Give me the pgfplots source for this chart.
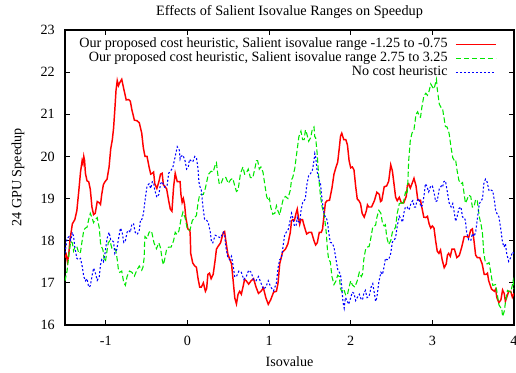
\documentclass[border=0pt]{standalone}
\usepackage{pgfplots}
\pgfplotsset{compat=1.18}
\usepackage{fontspec}
\setmainfont{Liberation Serif}
\definecolor{gred}{RGB}{255,0,0}
\definecolor{ggreen}{RGB}{0,230,0}
\definecolor{gblue}{RGB}{0,0,255}
\pgfplotsset{longleg/.style={legend image code/.code={\draw[##1] (0pt,0pt) -- (30pt,0pt);}}}
\begin{document}
\begin{tikzpicture}
\useasboundingbox (-48.75pt,-35.25pt) rectangle (338.25pt,243.75pt);
\begin{axis}[
  scale only axis, width=336.75pt, height=221.25pt,
  at={(0,0)}, anchor=south west,
  xmin=-1.5, xmax=4, ymin=16, ymax=23,
  xtick={-1,0,1,2,3,4}, ytick={16,17,18,19,20,21,22,23},
  tick align=inside, major tick length=4pt,
  axis line style={line width=0.8pt},
  every tick/.style={black, line width=0.6pt},
  font=\fontsize{10.6pt}{12pt}\selectfont,
  /pgf/number format/assume math mode=true,
  xticklabel style={anchor=base, yshift=-15pt},
  yticklabel style={inner xsep=0pt, xshift=-7.5pt},
  title={\fontsize{10.7pt}{12pt}\selectfont Effects of Salient Isovalue Ranges on Speedup},
  every axis title/.style={at={(0.5,1)}, anchor=base, yshift=11pt},
  xlabel={Isovalue},
  xlabel style={at={(axis description cs:0.5,0)}, anchor=base, yshift=-30.75pt},
  ylabel={24 GPU Speedup},
  ylabel style={at={(axis description cs:0,0.5)}, anchor=center, yshift=35.25pt},
  legend plot pos=right,
  legend cell align=right,
  legend style={draw=none, fill=none, at={(axis description cs:1,1)}, anchor=north east,
    xshift=-12.75pt, yshift=-5.5pt, inner sep=0pt,
    nodes={inner sep=0.75pt, text height=7pt, text depth=2pt},
    /tikz/column sep=5pt, row sep=0pt},
]
\addplot[gred, line width=1.1pt, longleg] coordinates {
(-1.50,17.6) (-1.485,17.67) (-1.47,17.5) (-1.455,17.65) (-1.44,18.0) (-1.41,18.4) (-1.38,18.5) (-1.355,18.71) (-1.33,19.2) (-1.31,19.63) (-1.29,19.9) (-1.28,19.83) (-1.27,20.0) (-1.26,19.9) (-1.25,19.6) (-1.23,19.42) (-1.21,19.4) (-1.19,19.22) (-1.17,18.8) (-1.15,18.62) (-1.13,18.65) (-1.105,18.93) (-1.08,18.9) (-1.065,18.86) (-1.05,19.1) (-1.03,19.33) (-1.01,19.4) (-0.985,19.46) (-0.96,19.75) (-0.94,20.18) (-0.92,20.4) (-0.905,20.67) (-0.89,21.1) (-0.875,21.57) (-0.86,21.8) (-0.845,21.68) (-0.83,21.75) (-0.805,21.83) (-0.78,21.6) (-0.75,21.34) (-0.72,21.35) (-0.70,21.31) (-0.68,21.1) (-0.65,20.86) (-0.62,20.85) (-0.59,20.8) (-0.56,20.55) (-0.54,20.2) (-0.52,20.0) (-0.495,20.0) (-0.47,19.75) (-0.45,19.58) (-0.43,19.6) (-0.415,19.63) (-0.40,19.35) (-0.375,19.24) (-0.35,19.4) (-0.33,19.58) (-0.31,19.6) (-0.295,19.33) (-0.28,19.3) (-0.255,19.23) (-0.23,18.95) (-0.21,18.75) (-0.19,18.7) (-0.17,19.27) (-0.15,19.6) (-0.125,19.4) (-0.10,19.4) (-0.09,19.4) (-0.08,19.1) (-0.065,18.91) (-0.05,19.0) (-0.035,18.86) (-0.02,18.55) (0.005,18.28) (0.03,18.25) (0.035,18.08) (0.04,17.7) (0.065,17.47) (0.09,17.4) (0.11,17.37) (0.13,17.1) (0.15,16.9) (0.17,16.9) (0.195,17.0) (0.22,16.8) (0.235,16.86) (0.25,17.2) (0.27,17.23) (0.29,17.1) (0.315,17.2) (0.34,17.55) (0.355,17.8) (0.37,17.85) (0.405,17.95) (0.44,18.2) (0.455,18.22) (0.47,18.0) (0.495,17.68) (0.52,17.55) (0.54,17.45) (0.56,17.05) (0.58,16.64) (0.60,16.5) (0.62,16.73) (0.64,16.8) (0.66,16.73) (0.68,16.9) (0.70,17.08) (0.72,17.05) (0.75,16.97) (0.78,17.05) (0.81,17.1) (0.84,16.9) (0.87,16.75) (0.90,16.8) (0.93,16.88) (0.96,16.65) (0.99,16.49) (1.02,16.6) (1.055,16.78) (1.09,16.8) (1.11,17.0) (1.13,17.45) (1.165,17.73) (1.20,17.8) (1.23,17.92) (1.26,18.2) (1.275,18.47) (1.29,18.5) (1.31,18.48) (1.33,18.65) (1.345,18.75) (1.36,18.55) (1.375,18.39) (1.39,18.5) (1.41,18.5) (1.43,18.35) (1.46,18.16) (1.49,18.2) (1.52,18.2) (1.55,18.0) (1.57,17.9) (1.59,17.95) (1.615,18.2) (1.64,18.2) (1.655,18.28) (1.67,18.55) (1.69,18.9) (1.71,18.95) (1.74,18.96) (1.77,19.25) (1.795,19.58) (1.82,19.75) (1.84,19.86) (1.86,20.2) (1.875,20.48) (1.89,20.55) (1.915,20.4) (1.94,20.4) (1.96,20.27) (1.98,19.9) (2.00,19.73) (2.02,19.75) (2.04,19.68) (2.06,19.3) (2.08,18.99) (2.10,18.95) (2.12,18.88) (2.14,18.65) (2.165,18.56) (2.19,18.7) (2.205,18.85) (2.22,18.8) (2.255,18.8) (2.29,18.95) (2.32,19.15) (2.35,19.1) (2.365,18.93) (2.38,18.95) (2.41,19.28) (2.44,19.3) (2.465,19.41) (2.49,19.8) (2.51,19.66) (2.53,19.35) (2.55,19.03) (2.57,18.95) (2.595,19.03) (2.62,18.9) (2.65,18.9) (2.68,19.05) (2.695,19.32) (2.71,19.35) (2.73,19.25) (2.75,19.35) (2.775,19.48) (2.80,19.3) (2.82,18.99) (2.84,18.95) (2.855,18.96) (2.87,18.8) (2.895,18.56) (2.92,18.55) (2.94,18.58) (2.96,18.4) (2.98,18.3) (3.00,18.35) (3.02,18.3) (3.04,18.0) (3.06,17.75) (3.08,17.7) (3.10,17.78) (3.12,17.55) (3.145,17.36) (3.17,17.45) (3.185,17.66) (3.20,17.7) (3.22,17.63) (3.24,17.8) (3.27,17.8) (3.30,17.6) (3.33,17.65) (3.36,17.85) (3.39,18.1) (3.42,18.1) (3.445,18.08) (3.47,18.25) (3.49,18.28) (3.51,18.0) (3.53,17.66) (3.55,17.6) (3.58,17.6) (3.61,17.45) (3.635,17.2) (3.66,17.2) (3.675,17.23) (3.69,17.05) (3.725,16.85) (3.76,16.8) (3.775,16.85) (3.79,16.65) (3.815,16.53) (3.84,16.6) (3.86,16.83) (3.88,16.75) (3.895,16.56) (3.91,16.65) (3.935,16.8) (3.96,16.8) (3.98,16.66) (4.00,16.75)
};
\addlegendentry{Our proposed cost heuristic, Salient isovalue range -1.25 to -0.75}
\addplot[ggreen, line width=0.8pt, dash pattern=on 4pt off 2pt, longleg] coordinates {
(-1.50,17.05) (-1.475,17.28) (-1.45,17.7) (-1.43,17.98) (-1.41,17.95) (-1.395,17.76) (-1.38,17.85) (-1.355,17.86) (-1.33,17.7) (-1.31,17.73) (-1.29,18.0) (-1.27,18.25) (-1.25,18.3) (-1.23,18.32) (-1.21,18.5) (-1.19,18.65) (-1.17,18.55) (-1.15,18.43) (-1.13,18.5) (-1.105,18.55) (-1.08,18.3) (-1.065,17.94) (-1.05,17.85) (-1.035,17.78) (-1.02,17.55) (-1.005,17.5) (-0.99,17.7) (-0.97,17.95) (-0.95,18.0) (-0.925,17.82) (-0.90,17.8) (-0.88,17.8) (-0.86,17.55) (-0.845,17.3) (-0.83,17.25) (-0.805,17.28) (-0.78,17.0) (-0.76,16.94) (-0.74,17.15) (-0.71,17.28) (-0.68,17.25) (-0.65,17.16) (-0.62,17.3) (-0.59,17.4) (-0.56,17.3) (-0.545,17.37) (-0.53,17.6) (-0.525,17.97) (-0.52,18.1) (-0.495,18.05) (-0.47,18.2) (-0.44,18.23) (-0.41,17.95) (-0.38,17.81) (-0.35,17.95) (-0.33,17.83) (-0.31,17.55) (-0.295,17.43) (-0.28,17.55) (-0.255,17.8) (-0.23,17.85) (-0.20,17.85) (-0.17,18.0) (-0.15,18.2) (-0.13,18.15) (-0.105,18.23) (-0.08,18.5) (-0.055,18.68) (-0.03,18.55) (0.00,18.26) (0.03,18.25) (0.06,18.48) (0.09,18.55) (0.11,18.6) (0.13,18.9) (0.15,19.1) (0.17,19.1) (0.195,19.1) (0.22,19.25) (0.255,19.57) (0.29,19.65) (0.315,19.63) (0.34,19.8) (0.355,19.85) (0.37,19.6) (0.39,19.34) (0.41,19.35) (0.44,19.5) (0.47,19.5) (0.50,19.36) (0.53,19.45) (0.555,19.48) (0.58,19.3) (0.60,19.17) (0.62,19.2) (0.65,19.6) (0.68,19.75) (0.70,19.58) (0.72,19.6) (0.745,19.7) (0.77,19.5) (0.80,19.49) (0.83,19.75) (0.845,19.9) (0.86,19.9) (0.88,19.7) (0.90,19.75) (0.925,19.63) (0.95,19.3) (0.97,19.05) (0.99,18.95) (1.005,19.0) (1.02,18.8) (1.045,18.63) (1.07,18.65) (1.09,18.83) (1.11,18.7) (1.13,18.61) (1.15,18.8) (1.175,19.0) (1.20,19.05) (1.23,19.0) (1.26,19.2) (1.275,19.45) (1.29,19.5) (1.315,19.72) (1.34,20.1) (1.365,20.47) (1.39,20.6) (1.41,20.4) (1.43,20.4) (1.445,20.63) (1.46,20.55) (1.485,20.36) (1.51,20.45) (1.53,20.65) (1.55,20.7) (1.56,20.46) (1.57,20.45) (1.59,20.05) (1.61,19.45) (1.63,19.05) (1.65,18.8) (1.675,18.62) (1.70,18.2) (1.715,17.78) (1.73,17.55) (1.75,17.5) (1.77,17.15) (1.795,16.96) (1.82,17.05) (1.84,17.18) (1.86,17.15) (1.875,16.86) (1.89,16.8) (1.915,16.85) (1.94,16.7) (1.96,16.72) (1.98,16.9) (2.00,17.05) (2.02,16.95) (2.05,16.9) (2.08,17.05) (2.105,17.25) (2.13,17.15) (2.145,17.21) (2.16,17.55) (2.18,17.78) (2.20,17.85) (2.225,17.86) (2.25,18.1) (2.27,18.33) (2.29,18.35) (2.305,18.37) (2.32,18.55) (2.345,18.72) (2.37,18.65) (2.39,18.4) (2.41,18.35) (2.425,18.38) (2.44,18.1) (2.465,17.91) (2.49,18.0) (2.51,18.2) (2.53,18.25) (2.55,18.33) (2.57,18.65) (2.595,18.88) (2.62,18.9) (2.635,18.85) (2.65,18.95) (2.67,19.15) (2.69,19.1) (2.70,19.4) (2.71,19.9) (2.73,20.38) (2.75,20.55) (2.775,20.64) (2.80,21.0) (2.82,21.06) (2.84,20.95) (2.855,20.93) (2.87,21.15) (2.895,21.43) (2.92,21.5) (2.94,21.45) (2.96,21.55) (2.98,21.72) (3.00,21.65) (3.02,21.6) (3.04,21.75) (3.05,21.83) (3.06,21.6) (3.085,21.24) (3.11,21.15) (3.125,21.13) (3.14,20.95) (3.16,20.71) (3.18,20.7) (3.205,20.55) (3.23,20.2) (3.25,19.97) (3.27,19.9) (3.285,19.92) (3.30,19.7) (3.325,19.43) (3.35,19.35) (3.37,19.38) (3.39,19.1) (3.405,18.89) (3.42,18.95) (3.445,19.08) (3.47,19.05) (3.49,18.8) (3.51,18.8) (3.53,18.98) (3.55,18.95) (3.575,18.57) (3.60,18.35) (3.615,18.15) (3.63,17.7) (3.65,17.48) (3.67,17.45) (3.695,17.48) (3.72,17.2) (3.74,16.94) (3.76,16.95) (3.775,16.96) (3.79,16.8) (3.815,16.48) (3.84,16.4) (3.85,16.4) (3.86,16.2) (3.88,16.32) (3.90,16.6) (3.92,16.82) (3.94,16.8) (3.96,16.78) (3.98,16.95) (3.99,17.05) (4.00,16.85)
};
\addlegendentry{Our proposed cost heuristic, Salient isovalue range 2.75 to 3.25}
\addplot[gblue, line width=0.8pt, dash pattern=on 1.5pt off 1.5pt, longleg] coordinates {
(-1.50,17.7) (-1.475,18.05) (-1.45,18.1) (-1.43,18.01) (-1.41,18.2) (-1.395,18.1) (-1.38,17.85) (-1.355,17.58) (-1.33,17.55) (-1.31,17.58) (-1.29,17.4) (-1.27,17.15) (-1.25,17.05) (-1.23,17.1) (-1.21,16.9) (-1.19,16.93) (-1.17,17.15) (-1.15,17.35) (-1.13,17.25) (-1.105,17.06) (-1.08,17.15) (-1.065,17.43) (-1.05,17.55) (-1.03,17.5) (-1.01,17.7) (-0.985,18.05) (-0.96,18.2) (-0.94,18.02) (-0.92,18.0) (-0.905,17.97) (-0.89,17.7) (-0.865,17.8) (-0.84,18.1) (-0.82,18.3) (-0.80,18.2) (-0.78,17.96) (-0.76,18.0) (-0.74,18.2) (-0.72,18.25) (-0.70,18.2) (-0.68,18.4) (-0.66,18.4) (-0.64,18.2) (-0.615,18.15) (-0.59,18.25) (-0.575,18.5) (-0.56,18.5) (-0.54,18.63) (-0.52,18.95) (-0.495,19.3) (-0.47,19.35) (-0.45,19.24) (-0.43,19.4) (-0.415,19.38) (-0.40,19.2) (-0.375,19.03) (-0.35,19.1) (-0.33,19.35) (-0.31,19.4) (-0.28,19.27) (-0.25,19.3) (-0.23,19.6) (-0.21,19.65) (-0.18,19.73) (-0.15,20.0) (-0.125,20.23) (-0.10,20.15) (-0.09,19.94) (-0.08,20.0) (-0.055,20.03) (-0.03,19.9) (-0.01,19.7) (0.01,19.75) (0.025,19.93) (0.04,19.9) (0.065,19.87) (0.09,20.0) (0.11,19.97) (0.13,19.7) (0.14,19.4) (0.15,19.3) (0.17,19.2) (0.19,18.8) (0.21,18.51) (0.23,18.5) (0.255,18.43) (0.28,18.2) (0.295,17.96) (0.31,17.95) (0.34,18.13) (0.37,18.1) (0.405,18.07) (0.44,18.2) (0.455,18.15) (0.47,17.85) (0.495,17.6) (0.52,17.55) (0.54,17.63) (0.56,17.4) (0.58,17.14) (0.60,17.15) (0.63,17.28) (0.66,17.25) (0.69,17.08) (0.72,17.15) (0.75,17.3) (0.78,17.25) (0.81,17.07) (0.84,17.05) (0.87,17.15) (0.90,17.0) (0.93,16.85) (0.96,16.9) (0.99,17.05) (1.02,16.9) (1.055,16.81) (1.09,17.0) (1.11,17.36) (1.13,17.55) (1.15,17.58) (1.17,17.85) (1.19,18.13) (1.21,18.2) (1.235,18.27) (1.26,18.5) (1.275,18.65) (1.29,18.55) (1.31,18.35) (1.33,18.35) (1.345,18.55) (1.36,18.45) (1.375,18.44) (1.39,18.7) (1.41,18.9) (1.43,18.95) (1.445,19.0) (1.46,19.3) (1.485,19.55) (1.51,19.6) (1.53,19.67) (1.55,19.9) (1.56,20.07) (1.57,20.0) (1.59,19.63) (1.61,19.45) (1.63,19.35) (1.65,18.95) (1.675,18.61) (1.70,18.55) (1.715,18.45) (1.73,18.2) (1.75,17.96) (1.77,17.95) (1.795,17.85) (1.82,17.55) (1.84,17.32) (1.86,17.25) (1.875,17.2) (1.89,16.9) (1.905,16.55) (1.92,16.4) (1.935,16.65) (1.95,16.6) (1.975,16.49) (2.00,16.65) (2.02,16.78) (2.04,16.75) (2.06,16.58) (2.08,16.65) (2.105,16.73) (2.13,16.6) (2.145,16.6) (2.16,16.75) (2.18,16.82) (2.20,16.65) (2.225,16.68) (2.25,16.9) (2.27,16.98) (2.29,16.75) (2.305,16.56) (2.32,16.65) (2.345,17.03) (2.37,17.25) (2.39,17.2) (2.41,17.4) (2.425,17.58) (2.44,17.55) (2.465,17.55) (2.49,17.7) (2.51,17.97) (2.53,18.0) (2.55,18.08) (2.57,18.35) (2.595,18.58) (2.62,18.5) (2.635,18.44) (2.65,18.65) (2.67,18.8) (2.69,18.8) (2.715,18.73) (2.74,18.9) (2.76,18.95) (2.78,18.8) (2.795,18.8) (2.81,18.95) (2.835,19.0) (2.86,18.8) (2.88,18.85) (2.90,19.1) (2.915,19.35) (2.93,19.3) (2.955,19.16) (2.98,19.3) (3.00,19.3) (3.02,19.15) (3.04,18.93) (3.06,18.95) (3.085,19.23) (3.11,19.3) (3.125,19.27) (3.14,19.4) (3.16,19.42) (3.18,19.2) (3.205,18.9) (3.23,18.8) (3.25,18.88) (3.27,18.65) (3.285,18.46) (3.30,18.55) (3.325,18.76) (3.35,18.8) (3.37,18.56) (3.39,18.55) (3.405,18.48) (3.42,18.2) (3.445,18.02) (3.47,18.0) (3.49,18.17) (3.51,18.1) (3.53,18.2) (3.55,18.5) (3.575,18.88) (3.60,18.95) (3.615,19.01) (3.63,19.35) (3.65,19.46) (3.67,19.4) (3.695,19.18) (3.72,19.2) (3.74,19.18) (3.76,18.95) (3.775,18.72) (3.79,18.65) (3.815,18.57) (3.84,18.25) (3.86,17.95) (3.88,17.85) (3.895,17.93) (3.91,17.7) (3.935,17.51) (3.96,17.6) (3.98,17.73) (4.00,17.7)
};
\addlegendentry{No cost heuristic}
\end{axis}
\end{tikzpicture}
\end{document}
